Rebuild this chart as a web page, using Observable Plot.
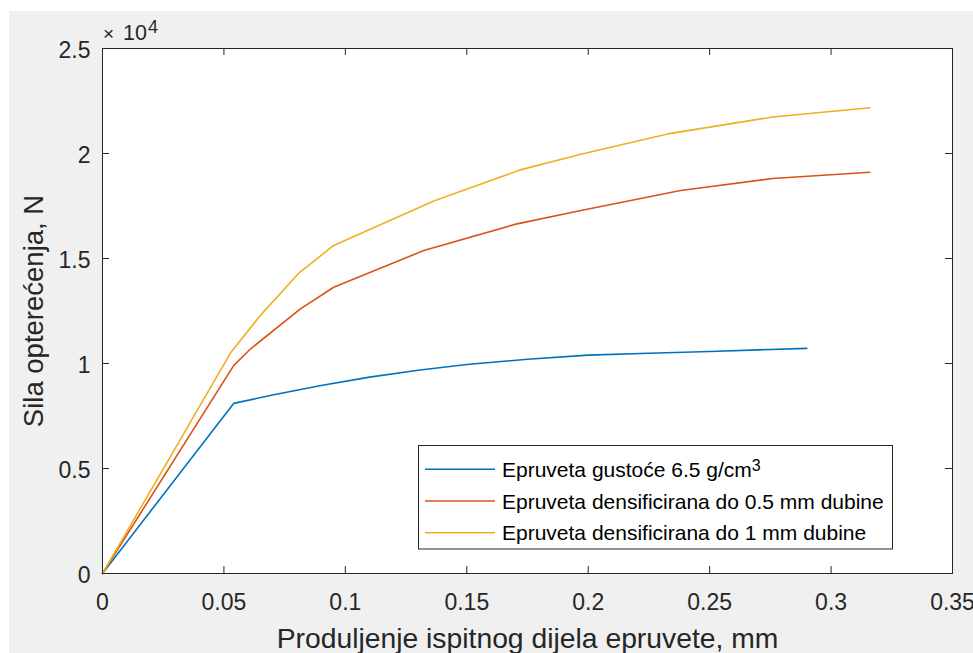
<!DOCTYPE html>
<html>
<head>
<meta charset="utf-8">
<script src="https://cdn.jsdelivr.net/npm/d3@7"></script>
<script src="https://cdn.jsdelivr.net/npm/@observablehq/plot@0.6"></script>
<style>
  html, body { margin: 0; padding: 0; background: #ffffff; }
  #wrap { position: relative; width: 973px; height: 653px; overflow: hidden; background: #ffffff; }
  #wrap > svg.plot { position: absolute; left: 9px; top: 11px; }
  #overlay { position: absolute; left: 0; top: 0; pointer-events: none; }
</style>
</head>
<body>
<div id="wrap"></div>
<script>
// ---- data ----
const seriesNames = [
  "Epruveta gustoće 6.5 g/cm^3",
  "Epruveta densificirana do 0.5 mm dubine",
  "Epruveta densificirana do 1 mm dubine"
];
const seriesColors = ["#0072BD", "#D95319", "#EDB120"];

const x65 = [0, 0.054, 0.07, 0.09, 0.11, 0.13, 0.15, 0.175, 0.2, 0.225, 0.25, 0.27, 0.29];
const y65 = [0, 8100, 8500, 8950, 9350, 9680, 9950, 10200, 10400, 10490, 10570, 10650, 10720];

const x05 = [0, 0.054, 0.061, 0.0815, 0.0952, 0.1323, 0.1707, 0.197, 0.238, 0.276, 0.316];
const y05 = [0, 9900, 10700, 12600, 13630, 15380, 16650, 17290, 18240, 18810, 19110];

const x10 = [0, 0.053, 0.065, 0.0808, 0.0952, 0.1364, 0.172, 0.197, 0.234, 0.276, 0.316];
const y10 = [0, 10550, 12290, 14300, 15620, 17740, 19220, 19960, 20960, 21740, 22180];

const xTicks = [0, 0.05, 0.1, 0.15, 0.2, 0.25, 0.3, 0.35];
const yTicks = [0, 5000, 10000, 15000, 20000, 25000];
const xLabel = "Produljenje ispitnog dijela epruvete, mm";
const yLabel = "Sila opterećenja, N";
const yExponent = "4";

// ---- build table ----
const xs = [x65, x05, x10];
const ys = [y65, y05, y10];
const data = seriesNames.flatMap((name, i) => xs[i].map((x, j) => ({series: name, x, y: ys[i][j]})));

const ink = "#262626";
const tick = 7;

const chart = Plot.plot({
  width: 964,
  height: 642,
  marginLeft: 93,
  marginRight: 21,
  marginTop: 37,
  marginBottom: 80,
  style: {background: "#f0f0f0", color: ink, fontFamily: "'Liberation Sans', Arial, sans-serif"},
  x: {domain: [0, 0.35], label: null},
  y: {domain: [0, 25000], label: null},
  color: {domain: seriesNames, range: seriesColors},
  marks: [
    Plot.frame({fill: "white", stroke: "none"}),
    Plot.line(data, {x: "x", y: "y", z: "series", stroke: "series", strokeWidth: 1.6, curve: "linear"}),
    // inward ticks on all four sides
    Plot.ruleX(xTicks, {x: d => d, y1: 0, y2: 0, insetTop: -tick, stroke: ink}),
    Plot.ruleX(xTicks, {x: d => d, y1: 25000, y2: 25000, insetBottom: -tick, stroke: ink}),
    Plot.ruleY(yTicks, {y: d => d, x1: 0, x2: 0, insetRight: -tick, stroke: ink}),
    Plot.ruleY(yTicks, {y: d => d, x1: 0.35, x2: 0.35, insetLeft: -tick, stroke: ink}),
    Plot.frame({stroke: ink, strokeWidth: 1}),
    Plot.axisX({ticks: xTicks, tickSize: 0, tickPadding: 20, fontSize: 23, label: null,
      tickFormat: d => String(+d.toFixed(2))}),
    Plot.axisY({ticks: yTicks, tickSize: 0, tickPadding: 12, fontSize: 23, dy: 2, label: null,
      tickFormat: d => String(d / 1e4)}),
    Plot.text([xLabel], {text: d => d, frameAnchor: "bottom", textAnchor: "middle", lineAnchor: "bottom",
      dy: 74, fontSize: 28.3, fill: ink}),
    Plot.text([yLabel], {text: d => d, frameAnchor: "left", textAnchor: "middle", lineAnchor: "bottom",
      rotate: -90, dx: -60, fontSize: 27.5, fill: ink})
  ]
});
chart.classList.add("plot");
const wrap = document.getElementById("wrap");
wrap.appendChild(chart);

// ---- overlay: exponent label and legend ----
const ov = d3.select(wrap).append("svg")
  .attr("id", "overlay")
  .attr("width", 973).attr("height", 653)
  .style("font-family", "'Liberation Sans', Arial, sans-serif");

ov.append("text").attr("x", 103).attr("y", 40).attr("font-size", 19).attr("fill", ink).text("×");
ov.append("text").attr("x", 123).attr("y", 40).attr("font-size", 21.5).attr("fill", ink).text("10");
ov.append("text").attr("x", 148).attr("y", 33).attr("font-size", 18).attr("fill", ink).text(yExponent);

ov.append("rect")
  .attr("x", 418.5).attr("y", 445.5).attr("width", 474).attr("height", 103.5)
  .attr("fill", "white").attr("stroke", ink).attr("stroke-width", 1);

seriesNames.forEach((name, i) => {
  const cy = 469.3 + i * 31.7;
  ov.append("line")
    .attr("x1", 425).attr("x2", 495).attr("y1", cy).attr("y2", cy)
    .attr("stroke", seriesColors[i]).attr("stroke-width", 1.6);
  const [base, sup] = name.split("^");
  const t = ov.append("text").attr("x", 502).attr("y", cy + 7.5)
    .attr("font-size", 21).attr("fill", "#000");
  t.append("tspan").text(base);
  if (sup) t.append("tspan").attr("dy", -6).attr("font-size", 16).text(sup);
});
</script>
</body>
</html>
